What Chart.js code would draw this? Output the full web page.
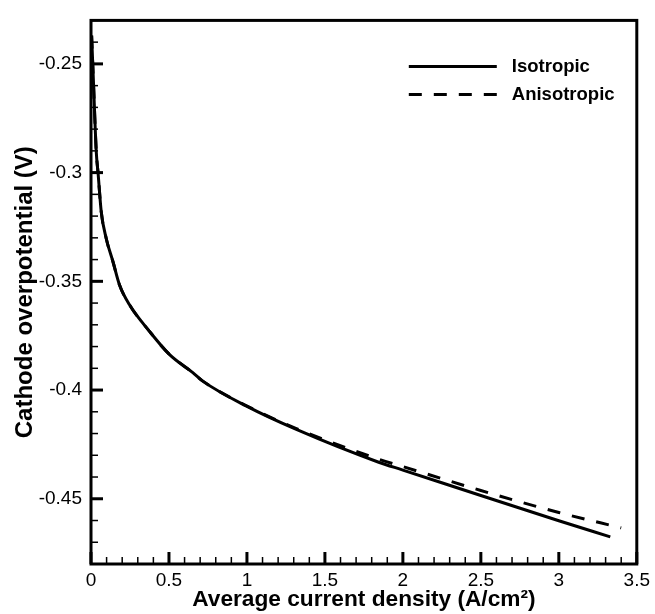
<!DOCTYPE html>
<html>
<head>
<meta charset="utf-8">
<script src="https://cdn.jsdelivr.net/npm/chart.js@4"></script>
<style>
  html, body { margin: 0; padding: 0; background: #fff; }
  canvas { display: block; }
</style>
</head>
<body>
<canvas id="chart" width="655" height="614"></canvas>
<script>
// values
const isoX = [0.004, 0.015, 0.034, 0.045, 0.066, 0.098, 0.141, 0.183, 0.247, 0.375, 0.504, 0.653, 0.717, 0.994, 1.313, 1.845, 2.0, 2.5, 3.0, 3.33];
const isoY = [-0.237, -0.257, -0.2907, -0.2999, -0.3182, -0.3304, -0.341, -0.3517, -0.3608, -0.373, -0.3837, -0.392, -0.3959, -0.4073, -0.418, -0.4332, -0.4368, -0.4485, -0.4601, -0.4675];
const anisoX = [0.004, 0.015, 0.034, 0.045, 0.066, 0.098, 0.141, 0.183, 0.247, 0.375, 0.504, 0.653, 0.717, 0.994, 1.313, 1.845, 2.0, 2.5, 3.0, 3.4];
const anisoY = [-0.237, -0.257, -0.2907, -0.2999, -0.3182, -0.3304, -0.341, -0.3517, -0.3608, -0.373, -0.3837, -0.392, -0.3959, -0.4071, -0.4176, -0.4318, -0.4352, -0.4462, -0.4563, -0.4634];

const xTicks = [0, 0.5, 1, 1.5, 2, 2.5, 3, 3.5];
const yTicks = [-0.45, -0.4, -0.35, -0.3, -0.25];

const FONT = 'Liberation Sans, Arial, Helvetica, sans-serif';

const toPoints = (xs, ys) => xs.map((x, i) => ({x: x, y: ys[i]}));

// frame, inward ticks (major + minor) and the in-plot legend
const frameAndTicks = {
    id: 'frameAndTicks',
    afterDraw(chart) {
        const {ctx, chartArea: a, scales: {x, y}} = chart;
        const seg = (x1, y1, x2, y2) => {
            ctx.beginPath();
            ctx.moveTo(x1, y1);
            ctx.lineTo(x2, y2);
            ctx.stroke();
        };
        ctx.save();
        ctx.strokeStyle = '#000';

        // minor ticks
        ctx.lineWidth = 1.5;
        for (let i = 0; i <= 35; i++) {
            const px = x.getPixelForValue(i / 10);
            seg(px, a.bottom, px, a.bottom - 7);
        }
        for (let i = 0; i <= 25; i++) {
            const py = y.getPixelForValue(-0.48 + i / 100);
            seg(a.left, py, a.left + 7, py);
        }

        // major ticks
        ctx.lineWidth = 3;
        xTicks.forEach(v => {
            const px = x.getPixelForValue(v);
            seg(px, a.bottom, px, a.bottom - 12);
        });
        yTicks.forEach(v => {
            const py = y.getPixelForValue(v);
            seg(a.left, py, a.left + 12, py);
        });

        // frame
        ctx.lineWidth = 3;
        ctx.strokeRect(a.left, a.top, a.right - a.left, a.bottom - a.top);

        // legend
        const lx = a.right - 228, ly = a.top + 46;
        ctx.font = 'bold 18.5px ' + FONT;
        ctx.fillStyle = '#000';
        ctx.textBaseline = 'middle';
        chart.data.datasets.forEach((ds, i) => {
            const yy = ly + i * 28;
            ctx.lineWidth = ds.borderWidth;
            ctx.setLineDash(ds.borderDash || []);
            seg(lx, yy, lx + 88, yy);
            ctx.setLineDash([]);
            ctx.fillText(ds.label, lx + 103, yy + 1);
        });
        ctx.restore();
    }
};

new Chart(document.getElementById('chart'), {
    type: 'scatter',
    data: {
        datasets: [
            {
                label: 'Isotropic',
                data: toPoints(isoX, isoY),
                showLine: true,
                borderColor: '#000',
                borderWidth: 3,
                pointRadius: 0,
                cubicInterpolationMode: 'monotone'
            },
            {
                label: 'Anisotropic',
                data: toPoints(anisoX, anisoY),
                showLine: true,
                borderColor: '#000',
                borderWidth: 3,
                borderDash: [13, 12],
                pointRadius: 0,
                cubicInterpolationMode: 'monotone'
            }
        ]
    },
    options: {
        responsive: false,
        animation: false,
        layout: {padding: {left: 0, top: 17, right: 17, bottom: 0}},
        plugins: {
            legend: {display: false},
            tooltip: {enabled: false}
        },
        scales: {
            x: {
                type: 'linear',
                min: 0,
                max: 3.5,
                afterBuildTicks: (s) => { s.ticks = xTicks.map(v => ({value: v})); },
                afterFit: (s) => { s.height = 50; },
                grid: {display: false, drawTicks: false},
                border: {display: false},
                ticks: {
                    color: '#000',
                    padding: 5,
                    maxRotation: 0,
                    font: {family: FONT, size: 19},
                    callback: (v) => String(v)
                },
                title: {
                    display: true,
                    text: 'Average current density (A/cm\u00b2)',
                    color: '#000',
                    padding: {top: 0, bottom: 1},
                    font: {family: FONT, size: 22.7, weight: 'bold'}
                }
            },
            y: {
                type: 'linear',
                min: -0.48,
                max: -0.23,
                afterBuildTicks: (s) => { s.ticks = yTicks.map(v => ({value: v})); },
                afterFit: (s) => { s.width = 91; },
                grid: {display: false, drawTicks: false},
                border: {display: false},
                ticks: {
                    color: '#000',
                    padding: 9,
                    font: {family: FONT, size: 19},
                    callback: (v) => String(v)
                },
                title: {
                    display: true,
                    text: 'Cathode overpotential (V)',
                    color: '#000',
                    padding: {top: 10.5, bottom: 0},
                    font: {family: FONT, size: 24, weight: 'bold'}
                }
            }
        }
    },
    plugins: [frameAndTicks]
});
</script>
</body>
</html>
